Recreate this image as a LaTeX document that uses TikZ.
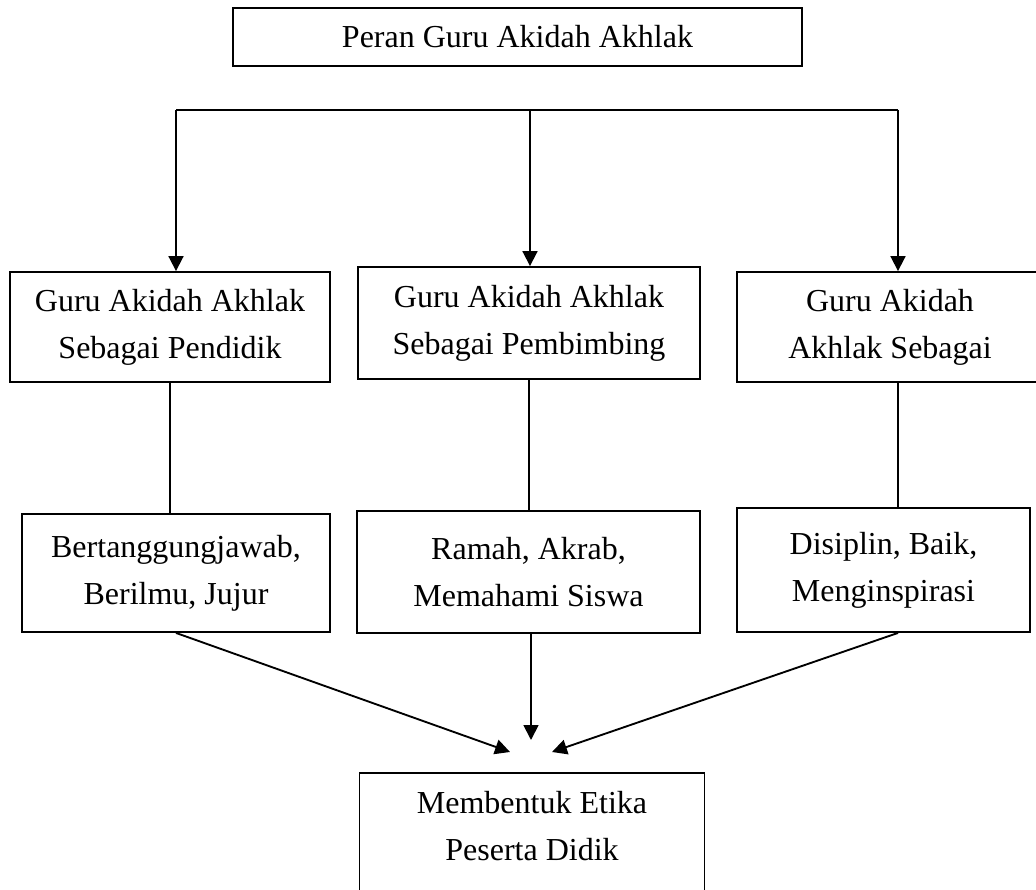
\documentclass[tikz,border=0pt]{standalone}
\usepackage{fontspec}
\setmainfont{Liberation Serif}
\usepackage{tikz}
\usetikzlibrary{arrows.meta,positioning}
\tikzset{
  box/.style={
    rectangle, draw=black, line width=0.7pt,
    align=center, font=\fontsize{12}{17.6}\selectfont,
    inner xsep=4pt, inner ysep=4pt
  },
  flow/.style={-{Triangle[length=5.6pt,width=5.6pt]},
               line width=0.7pt},
  link/.style={line width=0.7pt}
}

\begin{document}
\begin{tikzpicture}[x=0.375pt,y=-0.375pt]
  \useasboundingbox (0,0) rectangle (1036,890);

  \node[box, minimum width=213.4pt, minimum height=21.75pt] (peran) at (517.5,37)
    {Peran Guru Akidah Akhlak};

  \node[box, minimum width=120pt, minimum height=41.25pt] (pendidik) at (170,327)
    {Guru Akidah Akhlak\\Sebagai Pendidik};
  \node[box, minimum width=128.25pt, minimum height=42pt] (pembimbing) at (529,323)
    {Guru Akidah Akhlak\\Sebagai Pembimbing};
  \node[box, minimum width=114.75pt, minimum height=41.25pt] (sebagai) at (890,327)
    {Guru Akidah\\Akhlak Sebagai};

  \node[box, minimum width=115.5pt, minimum height=44.25pt] (sifatA) at (176,573)
    {Bertanggungjawab,\\Berilmu, Jujur};
  \node[box, minimum width=128.6pt, minimum height=45.75pt] (sifatB) at (528.5,572)
    {Ramah, Akrab,\\Memahami Siswa};
  \node[box, minimum width=109.9pt, minimum height=46.5pt] (sifatC) at (883.5,570)
    {Disiplin, Baik,\\Menginspirasi};

  \node[box, anchor=north, minimum width=129.4pt, inner ysep=6.8pt] (etika) at (532,772)
    {Membentuk Etika\\Peserta Didik\\\strut};

  % garis cabang
  \coordinate (busL) at (176,110);
  \coordinate (busM) at (530,110);
  \coordinate (busR) at (898,110);
  \draw[link] (busL) -- (busR);

  \draw[flow] (busL) -- (busL |- pendidik.north);
  \draw[flow] (busM) -- (busM |- pembimbing.north);
  \draw[flow] (busR) -- (busR |- sebagai.north);

  \draw[link] (pendidik.south) -- (pendidik.south |- sifatA.north);
  \draw[link] (pembimbing.south) -- (pembimbing.south |- sifatB.north);
  \draw[link] (busR |- sebagai.south) -- (busR |- sifatC.north);

  % ujung panah di atas kotak etika
  \coordinate (inA) at (510,752);
  \coordinate (inB) at (531,740);
  \coordinate (inC) at (552,752);
  \draw[flow] (sifatA.south) -- (inA);
  \draw[flow] (sifatB.south -| inB) -- (inB);
  \draw[flow] (busR |- sifatC.south) -- (inC);
\end{tikzpicture}
\end{document}
